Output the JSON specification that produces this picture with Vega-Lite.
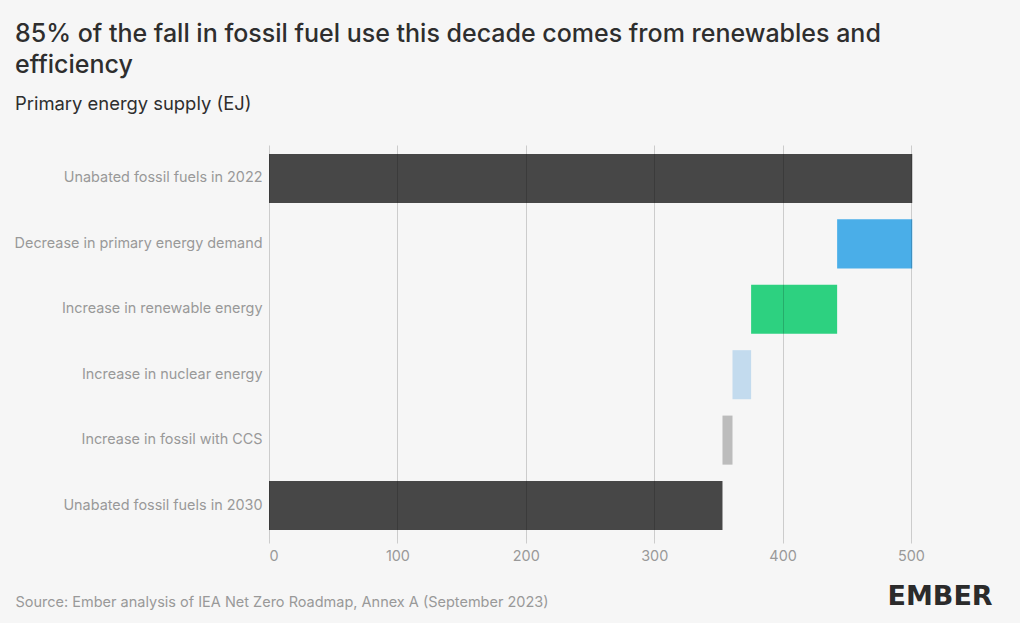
{
  "$schema": "https://vega.github.io/schema/vega-lite/v6.json",
  "autosize": "none",
  "width": 719,
  "height": 394,
  "padding": {"left": 269, "top": 145, "right": 32, "bottom": 84},
  "background": "#f6f6f6",
  "title": {
    "text": ["85% of the fall in fossil fuel use this decade comes from renewables and", "efficiency"],
    "subtitle": "Primary energy supply (EJ)",
    "anchor": "start",
    "frame": "group",
    "dx": -254,
    "offset": 32,
    "font": "Inter",
    "fontSize": 25,
    "fontWeight": 500,
    "color": "#2e2e2e",
    "lineHeight": 31,
    "subtitleFont": "Inter",
    "subtitleFontSize": 18.4,
    "subtitleFontWeight": 400,
    "subtitleColor": "#2e2e2e",
    "subtitlePadding": 17
  },
  "data": {
    "values": [
      {"category": "Unabated fossil fuels in 2022", "start": 0, "end": 501, "kind": "fossil"},
      {"category": "Decrease in primary energy demand", "start": 442.5, "end": 501, "kind": "demand"},
      {"category": "Increase in renewable energy", "start": 375.5, "end": 442.5, "kind": "renewable"},
      {"category": "Increase in nuclear energy", "start": 361, "end": 375.5, "kind": "nuclear"},
      {"category": "Increase in fossil with CCS", "start": 353.2, "end": 361, "kind": "ccs"},
      {"category": "Unabated fossil fuels in 2030", "start": 0, "end": 353.2, "kind": "fossil"}
    ]
  },
  "mark": {"type": "bar"},
  "encoding": {
    "y": {
      "field": "category",
      "type": "nominal",
      "sort": null,
      "scale": {"paddingInner": 0.25, "paddingOuter": 0.137},
      "axis": {
        "title": "EMBER",
        "titleAngle": 0,
        "titleX": 618,
        "titleY": 459,
        "titleAlign": "left",
        "titleBaseline": "alphabetic",
        "titleFont": "DejaVu Sans",
        "titleFontSize": 27,
        "titleFontWeight": "bold",
        "titleColor": "#2b2b2b",
        "domain": false,
        "ticks": false,
        "labelPadding": 7,
        "labelFont": "Inter",
        "labelFontSize": 14.4,
        "labelColor": "#999999",
        "labelLimit": 300
      }
    },
    "x": {
      "field": "start",
      "type": "quantitative",
      "scale": {"domain": [0, 560], "nice": false},
      "axis": {
        "values": [0, 100, 200, 300, 400, 500],
        "title": "Source: Ember analysis of IEA Net Zero Roadmap, Annex A (September 2023)",
        "titleX": -254,
        "titleY": 67,
        "titleAlign": "left",
        "titleAnchor": "start",
        "titleBaseline": "alphabetic",
        "titleFont": "Inter",
        "titleFontSize": 14.5,
        "titleFontWeight": 400,
        "titleColor": "#999999",
        "domain": false,
        "grid": true,
        "gridColor": "#000000",
        "gridOpacity": 0.17,
        "tickColor": "#000000",
        "tickOpacity": 0.17,
        "tickSize": 4,
        "labelPadding": 6,
        "labelFont": "Inter",
        "labelFontSize": 14.4,
        "labelColor": "#999999",
        "zindex": 1
      }
    },
    "x2": {"field": "end"},
    "color": {
      "field": "kind",
      "type": "nominal",
      "scale": {
        "domain": ["fossil", "demand", "renewable", "nuclear", "ccs"],
        "range": ["#474747", "#4aaee8", "#2dd180", "#c3dbee", "#bcbcbc"]
      },
      "legend": null
    }
  },
  "config": {"view": {"stroke": null}}
}
